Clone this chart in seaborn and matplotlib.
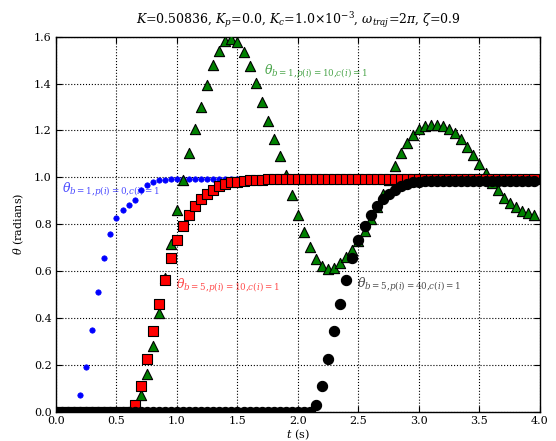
import numpy as np
import pandas as pd
import seaborn as sns
import matplotlib
matplotlib.use("Agg")
import matplotlib.pyplot as plt

# time grid (s)
t = np.round(np.arange(80) * 0.05, 2)

# theta for each controller setting
theta_b1_p0 = [0, 0, 0, 0.01, 0.07, 0.19, 0.35, 0.51, 0.655, 0.757,
               0.825, 0.86, 0.88, 0.904, 0.948, 0.966, 0.98, 0.988, 0.99, 0.991,
               0.991, 0.992, 0.992, 0.992, 0.992, 0.992, 0.992, 0.992, 0.992, 0.992,
               0.992, 0.992, 0.992, 0.992, 0.992, 0.992, 0.992, 0.992, 0.992, 0.992,
               0.992, 0.992, 0.992, 0.992, 0.992, 0.992, 0.992, 0.992, 0.992, 0.992,
               0.992, 0.992, 0.992, 0.992, 0.992, 0.992, 0.992, 0.992, 0.992, 0.992,
               0.992, 0.992, 0.992, 0.992, 0.992, 0.992, 0.992, 0.992, 0.992, 0.992,
               0.992, 0.992, 0.992, 0.992, 0.992, 0.992, 0.992, 0.992, 0.992, 0.992]

theta_b1_p10 = [0, 0, 0, 0, 0, 0, 0, 0, 0, 0,
                0, 0, 0, 0.01, 0.07, 0.16, 0.282, 0.423, 0.57, 0.716,
                0.86, 0.987, 1.104, 1.206, 1.298, 1.392, 1.48, 1.54, 1.58, 1.59,
                1.576, 1.533, 1.474, 1.402, 1.322, 1.241, 1.164, 1.089, 1.008, 0.923,
                0.84, 0.767, 0.704, 0.653, 0.623, 0.609, 0.614, 0.635, 0.662, 0.691,
                0.73, 0.77, 0.821, 0.875, 0.931, 0.99, 1.049, 1.103, 1.148, 1.181,
                1.205, 1.219, 1.224, 1.224, 1.219, 1.205, 1.188, 1.162, 1.131, 1.096,
                1.058, 1.019, 0.975, 0.944, 0.913, 0.89, 0.873, 0.858, 0.846, 0.838]

theta_b5_p10 = [0, 0, 0, 0, 0, 0, 0, 0, 0, 0,
                0, 0, 0, 0.03, 0.112, 0.224, 0.344, 0.46, 0.564, 0.656,
                0.731, 0.794, 0.84, 0.878, 0.908, 0.93, 0.947, 0.961, 0.972, 0.978,
                0.982, 0.985, 0.987, 0.989, 0.99, 0.991, 0.992, 0.992, 0.992, 0.992,
                0.992, 0.992, 0.992, 0.992, 0.992, 0.992, 0.992, 0.992, 0.992, 0.992,
                0.992, 0.992, 0.992, 0.992, 0.992, 0.992, 0.992, 0.992, 0.992, 0.992,
                0.992, 0.992, 0.992, 0.992, 0.992, 0.992, 0.992, 0.992, 0.992, 0.992,
                0.992, 0.992, 0.992, 0.992, 0.992, 0.992, 0.992, 0.992, 0.992, 0.992]

theta_b5_p40 = [0, 0, 0, 0, 0, 0, 0, 0, 0, 0,
                0, 0, 0, 0, 0, 0, 0, 0, 0, 0,
                0, 0, 0, 0, 0, 0, 0, 0, 0, 0,
                0, 0, 0, 0, 0, 0, 0, 0, 0, 0,
                0, 0, 0, 0.03, 0.112, 0.224, 0.344, 0.46, 0.564, 0.656,
                0.731, 0.794, 0.84, 0.878, 0.908, 0.93, 0.947, 0.961, 0.972, 0.978,
                0.981, 0.983, 0.984, 0.985, 0.985, 0.985, 0.985, 0.985, 0.985, 0.985,
                0.985, 0.985, 0.985, 0.985, 0.985, 0.985, 0.985, 0.985, 0.985, 0.985]

df = pd.DataFrame({"t": t, "blue": theta_b1_p0, "green": theta_b1_p10,
                   "red": theta_b5_p10, "black": theta_b5_p40})

plt.rcParams["font.family"] = ["DejaVu Serif"]
plt.rcParams["mathtext.fontset"] = "dejavuserif"
plt.rcParams["xtick.direction"] = "in"
plt.rcParams["ytick.direction"] = "in"
plt.rcParams["axes.linewidth"] = 1.0

fig = plt.figure(figsize=(5.56, 4.41), dpi=100)
ax = fig.add_axes([0.1007, 0.066, 0.8705, 0.851])

sns.scatterplot(data=df, x="t", y="blue", ax=ax, color="b", marker="o",
                s=15, edgecolor="b", linewidth=0.5, zorder=3)
sns.scatterplot(data=df, x="t", y="green", ax=ax, color="g", marker="^",
                s=54, edgecolor="k", linewidth=0.8, zorder=4)
sns.scatterplot(data=df, x="t", y="red", ax=ax, color="r", marker="s",
                s=46, edgecolor="k", linewidth=0.8, zorder=5)
sns.scatterplot(data=df, x="t", y="black", ax=ax, color="k", marker="o",
                s=54, edgecolor="k", linewidth=0.8, zorder=6)

ax.text(0.05, 0.932, r"$\theta_{b=1{,}p(i)=0{,}c(i)=1}$", color="b", alpha=0.7,
        fontsize=9, va="baseline", ha="left")
ax.text(1.715, 1.436, r"$\theta_{b=1{,}p(i)=10{,}c(i)=1}$", color="g", alpha=0.7,
        fontsize=9, va="baseline", ha="left")
ax.text(0.995, 0.526, r"$\theta_{b=5{,}p(i)=10{,}c(i)=1}$", color="r", alpha=0.7,
        fontsize=9, va="baseline", ha="left")
ax.text(2.49, 0.53, r"$\theta_{b=5{,}p(i)=40{,}c(i)=1}$", color="k", alpha=0.7,
        fontsize=9, va="baseline", ha="left")

ax.set_xlim(0, 4)
ax.set_ylim(0, 1.6)
ax.set_xticks(np.arange(0, 4.01, 0.5))
ax.set_yticks(np.arange(0, 1.61, 0.2))
ax.grid(True, color="k", linestyle=":", linewidth=0.8)
ax.tick_params(top=True, right=True, labelsize=8, length=4, pad=3)
ax.set_xlabel(r"$t$ (s)", fontsize=8, labelpad=1)
ax.set_ylabel(r"$\theta$ (radians)", fontsize=8, labelpad=6)
ax.set_title(r"$K$=0.50836, $K_p$=0.0, $K_c$=1.0$\times10^{-3}$, $\omega_{traj}$=$2\pi$, $\zeta$=0.9",
             fontsize=9, pad=9)

plt.savefig("out.png", dpi=100)
